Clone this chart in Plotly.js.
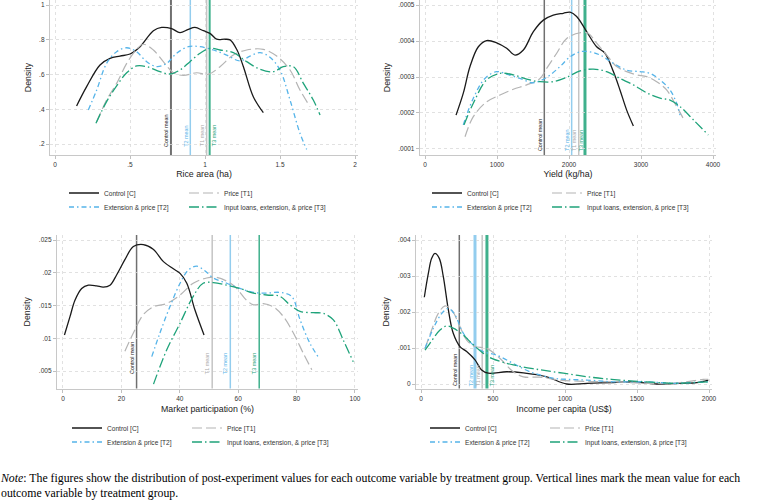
<!DOCTYPE html>
<html><head><meta charset="utf-8">
<script src="https://cdn.plot.ly/plotly-3.0.1.min.js"></script>
<style>html,body{margin:0;padding:0;background:#fff}#chart{width:762px;height:500px}</style>
</head><body><div id="chart"></div>
<script>
// ---------- categories / labels ----------
const groupNames = ['Control [C]', 'Price [T1]', 'Extension & price [T2]', 'Input loans, extension, & price [T3]'];
const meanLabels = ['Control mean', 'T1 mean', 'T2 mean', 'T3 mean'];
const xTitles = ['Rice area (ha)', 'Yield (kg/ha)', 'Market participation (%)', 'Income per capita (US$)'];

// ---------- Rice area ----------
const riceC_x = [0.144,0.211,0.30,0.367,0.433,0.50,0.567,0.656,0.711,0.778,0.833,0.889,0.933,0.989,1.033,1.078,1.133,1.167,1.211,1.256,1.322,1.389];
const riceC_y = [0.419,0.530,0.655,0.693,0.706,0.718,0.760,0.852,0.871,0.864,0.841,0.860,0.871,0.852,0.837,0.803,0.803,0.799,0.745,0.645,0.472,0.380];
const riceT1_x = [0.278,0.344,0.411,0.478,0.544,0.589,0.656,0.722,0.789,0.856,0.944,1.022,1.10,1.189,1.278,1.389,1.478,1.567,1.633,1.70];
const riceT1_y = [0.328,0.453,0.549,0.664,0.745,0.774,0.741,0.674,0.610,0.595,0.610,0.601,0.645,0.712,0.741,0.745,0.706,0.626,0.511,0.415];
const riceT2_x = [0.222,0.278,0.344,0.411,0.478,0.544,0.611,0.678,0.744,0.811,0.889,0.967,1.056,1.144,1.233,1.30,1.367,1.433,1.50,1.567,1.633,1.678];
const riceT2_y = [0.396,0.511,0.664,0.731,0.754,0.731,0.674,0.645,0.664,0.722,0.760,0.760,0.741,0.712,0.678,0.706,0.726,0.699,0.626,0.453,0.262,0.169];
const riceT3_x = [0.273,0.344,0.411,0.478,0.544,0.611,0.70,0.767,0.833,0.90,0.967,1.033,1.10,1.189,1.278,1.367,1.456,1.522,1.589,1.656,1.722,1.767];
const riceT3_y = [0.319,0.444,0.534,0.610,0.649,0.645,0.616,0.603,0.626,0.674,0.722,0.751,0.741,0.726,0.674,0.630,0.616,0.645,0.645,0.549,0.453,0.367];
const riceMeans = [0.773, 1.011, 0.902, 1.031];
const riceXTicks = [0, 0.5, 1, 1.5, 2];
const riceXTickText = ['0', '.5', '1', '1.5', '2'];
const riceYTicks = [0.2, 0.4, 0.6, 0.8, 1];
const riceYTickText = ['.2', '.4', '.6', '.8', '1'];

// ---------- Yield ----------
const yieldC_x = [431,532,625,741,856,995,1134,1250,1366,1505,1644,1782,1921,2014,2106,2245,2384,2500,2616,2708,2801,2894];
const yieldC_y = [.000194,.000255,.000329,.000384,.000401,.000395,.000380,.000361,.000375,.000426,.000458,.000472,.000477,.000480,.000468,.000426,.000384,.000366,.000315,.000264,.000208,.000164];
const yieldT1_x = [556,671,856,1042,1227,1412,1597,1690,1829,1968,2153,2269,2384,2523,2662,2801,2940,3079,3218,3356,3495,3611];
const yieldT1_y = [.000134,.000190,.000231,.000250,.000266,.000278,.000296,.000324,.000366,.000407,.000423,.000421,.000394,.000361,.000329,.000315,.000306,.000301,.000287,.000264,.000218,.000176];
const yieldT2_x = [532,671,833,995,1134,1319,1505,1690,1875,2014,2153,2292,2431,2616,2801,2986,3125,3264,3403,3495,3542];
const yieldT2_y = [.000167,.000241,.000296,.000315,.000308,.000296,.000284,.000299,.000329,.000356,.000370,.000370,.000361,.000338,.000319,.000315,.000310,.000292,.000264,.000227,.000194];
const yieldT3_x = [542,671,856,1042,1227,1412,1597,1782,1968,2153,2338,2523,2708,2894,3079,3264,3403,3542,3727,3935];
const yieldT3_y = [.000167,.000227,.000292,.000310,.000306,.000294,.000287,.000287,.000299,.000317,.000322,.000315,.000296,.000278,.000256,.000241,.000236,.000218,.000181,.000139];
const yieldMeans = [1657, 2135, 2037, 2222];
const yieldXTicks = [0, 1000, 2000, 3000, 4000];
const yieldXTickText = ['0', '1000', '2000', '3000', '4000'];
const yieldYTicks = [0.0001, 0.0002, 0.0003, 0.0004, 0.0005];
const yieldYTickText = ['.0001', '.0002', '.0003', '.0004', '.0005'];

// ---------- Market participation ----------
const marketC_x = [0.5,2.4,4.1,6.4,8.7,11.5,13.8,16.1,18.4,21.2,24.1,27.5,30.9,34.4,37.8,40.1,42.4,45.2,48.3];
const marketC_y = [.0105,.0133,.0158,.0176,.0181,.0180,.0178,.0181,.0197,.0220,.0240,.0243,.0236,.0217,.0206,.0199,.0184,.0143,.0105];
const marketT1_x = [21.2,24.1,27.5,30.9,35.5,40.1,44.6,49.2,52.6,58.3,62.9,65.2,68.6,72.0,75.5,78.9,82.3,85.2];
const marketT1_y = [.0080,.0108,.0136,.0148,.0153,.0166,.0184,.0192,.0193,.0181,.0158,.0151,.0153,.0148,.0133,.0108,.0077,.0052];
const marketT2_x = [30.4,33.2,36.6,40.1,42.9,45.8,48.6,51.5,56.1,60.6,65.2,69.8,74.3,78.3,81.2,84.6,87.8];
const marketT2_y = [.0072,.0108,.0148,.0184,.0204,.0210,.0203,.0192,.0184,.0176,.0170,.0169,.0170,.0164,.0128,.0092,.0069];
const marketT3_x = [31.0,35.5,40.1,44.6,48.0,51.5,56.1,60.6,65.2,69.8,74.3,77.7,81.2,85.7,89.1,92.6,96.0,99.4];
const marketT3_y = [.0030,.0082,.0123,.0164,.0184,.0185,.0181,.0176,.0169,.0166,.0164,.0151,.0141,.0139,.0138,.0128,.0097,.0064];
const marketMeans = [25.2, 51.1, 57.3, 67.2];
const marketXTicks = [0, 20, 40, 60, 80, 100];
const marketXTickText = ['0', '20', '40', '60', '80', '100'];
const marketYTicks = [0.005, 0.01, 0.015, 0.02, 0.025];
const marketYTickText = ['.005', '.01', '.015', '.02', '.025'];

// ---------- Income per capita ----------
const incomeC_x = [23,51,74,97,127,155,190,224,271,317,375,421,467,595,711,873,1012,1151,1336,1475,1637,1799,1915,1995];
const incomeC_y = [.00241,.00307,.00349,.00363,.00349,.00298,.00206,.00141,.00104,.00090,.00067,.00039,.00030,.00034,.00031,.00020,.00000,.00002,.00004,.00006,.00000,.00002,.00004,.00011];
const incomeT1_x = [28,74,120,167,213,271,317,375,456,549,641,711,826,965,1151,1336,1567,1799,1960,1995];
const incomeT1_y = [.00099,.00150,.00196,.00217,.00206,.00159,.00122,.00104,.00099,.00071,.00034,.00020,.00019,.00011,.00007,.00006,.00002,.00004,.00013,.00013];
const incomeT2_x = [28,86,144,190,236,294,363,433,526,641,757,919,1012,1151,1336,1567,1753,1892,1995];
const incomeT2_y = [.00099,.00155,.00196,.00210,.00192,.00141,.00108,.00090,.00080,.00057,.00034,.00016,.00013,.00011,.00006,.00006,.00002,.00004,.00006];
const incomeT3_x = [28,62,132,178,224,294,352,433,491,641,803,988,1197,1382,1567,1753,1892,1995];
const incomeT3_y = [.00094,.00113,.00150,.00161,.00155,.00136,.00113,.00085,.00071,.00053,.00041,.00030,.00018,.00011,.00006,.00002,.00004,.00006];
const incomeMeans = [266, 425, 375, 458];
const incomeXTicks = [0, 500, 1000, 1500, 2000];
const incomeXTickText = ['0', '500', '1000', '1500', '2000'];
const incomeYTicks = [0, 0.001, 0.002, 0.003, 0.004];
const incomeYTickText = ['0', '.001', '.002', '.003', '.004'];

// ---------- styling ----------
const SANS = 'Liberation Sans, Arial, sans-serif';
const curveColors = ['#1a1a1a', '#b4b4b4', '#56b4e9', '#1fa37a'];
const curveDash = ['solid', '10px,4px', '5px,3px,1.5px,3px', '10px,3px,1.5px,3px'];
const curveWidth = [1.3, 1.2, 1.3, 1.3];
const meanColors = ['#707070', '#c4c4c4', '#93cdee', '#3fb08c'];
const labelColors = ['#222222', '#aaaaaa', '#56b4e9', '#1fa37a'];
const W = 762, H = 500;
const px = v => v / W, py = v => 1 - v / H;

const panels = [
  { xs: [riceC_x, riceT1_x, riceT2_x, riceT3_x], ys: [riceC_y, riceT1_y, riceT2_y, riceT3_y], means: riceMeans,
    xt: riceXTicks, xtt: riceXTickText, yt: riceYTicks, ytt: riceYTickText,
    xdom: [50, 358], ydom: [0, 155], xr: [-0.0333, 2.02], yr: [0.1367, 1.0288], xStand: 3,
    labelY: 0.18, sides: ['l', 'l', 'l', 'r'], legText: 108, legY: [193, 207], meanW: [2, 1.5, 1.5, 2] },
  { xs: [yieldC_x, yieldT1_x, yieldT2_x, yieldT3_x], ys: [yieldC_y, yieldT1_y, yieldT2_y, yieldT3_y], means: yieldMeans,
    xt: yieldXTicks, xtt: yieldXTickText, yt: yieldYTicks, ytt: yieldYTickText,
    xdom: [420, 716], ydom: [0, 155], xr: [-69.4, 4041.7], yr: [0.0000833, 0.0005139], xStand: 3,
    labelY: 0.000091, sides: ['l', 'l', 'l', 'l'], legText: 471, legY: [193, 207], meanW: [1.5, 1.5, 1.5, 3] },
  { xs: [marketC_x, marketT1_x, marketT2_x, marketT3_x], ys: [marketC_y, marketT1_y, marketT2_y, marketT3_y], means: marketMeans,
    xt: marketXTicks, xtt: marketXTickText, yt: marketYTicks, ytt: marketYTickText,
    xdom: [57, 358], ydom: [235, 388.5], xr: [-2.05, 101.03], yr: [0.002328, 0.025763], xStand: 5,
    labelY: 0.0044, sides: ['l', 'l', 'l', 'l'], legText: 111, legY: [428, 442], meanW: [1.5, 1.5, 1.5, 1.5] },
  { xs: [incomeC_x, incomeT1_x, incomeT2_x, incomeT3_x], ys: [incomeC_y, incomeT1_y, incomeT2_y, incomeT3_y], means: incomeMeans,
    xt: incomeXTicks, xtt: incomeXTickText, yt: incomeYTicks, ytt: incomeYTickText,
    xdom: [416, 712], ydom: [235, 388.5], xr: [-34.7, 2020.8], yr: [-0.000125, 0.004139], xStand: 5,
    labelY: -0.00009, sides: ['l', 'l', 'l', 'r'], legText: 469, legY: [428, 442], meanW: [1.5, 1.5, 3, 3] }
];

const axisCommon = {
  showline: true, linecolor: '#c8c8c8', linewidth: 1.2, mirror: false,
  ticks: 'outside', ticklen: 3, tickwidth: 1, tickcolor: '#c0c0c0',
  tickfont: { family: SANS, size: 6.5, color: '#333' },
  showgrid: true, gridcolor: '#d9d9d9', gridwidth: 0.8, griddash: 'dot',
  zeroline: false, fixedrange: true, automargin: false
};

const data = [];
const shapes = [];
const annotations = [];
const layout = {
  width: W, height: H, margin: { l: 0, r: 0, t: 0, b: 0 },
  paper_bgcolor: '#fff', plot_bgcolor: '#fff', showlegend: true, hovermode: false
};

panels.forEach((p, i) => {
  const n = i + 1;
  const xa = n === 1 ? 'x' : 'x' + n;
  const ya = n === 1 ? 'y' : 'y' + n;
  const xKey = n === 1 ? 'xaxis' : 'xaxis' + n;
  const yKey = n === 1 ? 'yaxis' : 'yaxis' + n;
  layout[xKey] = Object.assign({}, axisCommon, {
    domain: [px(p.xdom[0]), px(p.xdom[1])], range: p.xr, anchor: ya,
    tickmode: 'array', tickvals: p.xt, ticktext: p.xtt,
    title: { text: xTitles[i], font: { family: SANS, size: 8.8, color: '#222' }, standoff: p.xStand }
  });
  layout[yKey] = Object.assign({}, axisCommon, {
    domain: [py(p.ydom[1]), py(p.ydom[0])], range: p.yr, anchor: xa,
    tickmode: 'array', tickvals: p.yt, ticktext: p.ytt,
    title: { text: 'Density', font: { family: SANS, size: 8.8, color: '#222' }, standoff: 6 }
  });
  const legA = 2 * i + 1, legB = 2 * i + 2;
  const legId = k => (k === 1 ? 'legend' : 'legend' + k);
  [legA, legB].forEach((k, r) => {
    layout[legId(k)] = {
      orientation: 'h', x: px(p.legText - 44), y: py(p.legY[r]), xanchor: 'left', yanchor: 'middle',
      entrywidth: 75, entrywidthmode: 'pixels', bgcolor: 'rgba(0,0,0,0)', borderwidth: 0,
      font: { family: SANS, size: 6.6, color: '#333' }, itemwidth: 30, tracegroupgap: 0
    };
  });
  for (let g = 0; g < 4; g++) {
    const trace = {
      type: 'scatter', mode: 'lines', x: p.xs[g], y: p.ys[g], xaxis: xa, yaxis: ya,
      name: groupNames[g], legend: legId(g < 2 ? legA : legB),
      line: { color: curveColors[g], width: curveWidth[g], dash: curveDash[g], shape: 'spline', smoothing: 1 }
    };
    if (g % 2 === 1) trace.legendwidth = 170;
    data.push(trace);
    shapes.push({
      type: 'line', xref: xa, yref: ya + ' domain', x0: p.means[g], x1: p.means[g], y0: 0, y1: 1,
      line: { color: meanColors[g], width: p.meanW[g] }, layer: 'below'
    });
    const left = p.sides[g] === 'l';
    annotations.push({
      xref: xa, yref: ya, x: p.means[g], y: p.labelY, text: meanLabels[g], textangle: -90,
      xanchor: left ? 'right' : 'left', yanchor: 'bottom', xshift: left ? -0.5 : 0.5,
      showarrow: false, borderpad: 0, font: { family: SANS, size: 5.4, color: labelColors[g] }
    });
  }
});

annotations.push({
  xref: 'paper', yref: 'paper', x: 0, y: py(470), xanchor: 'left', yanchor: 'top', align: 'left', xshift: -1,
  showarrow: false, borderpad: 0,
  text: '<i>Note</i>: The figures show the distribution of post-experiment values for each outcome variable by treatment group. Vertical lines mark the mean value for each<br>outcome variable by treatment group.',
  font: { family: 'Liberation Serif, Times New Roman, serif', size: 11.8, color: '#000' }
});

layout.shapes = shapes;
layout.annotations = annotations;

Plotly.newPlot('chart', data, layout, { displayModeBar: false, staticPlot: true });
</script>
</body></html>
